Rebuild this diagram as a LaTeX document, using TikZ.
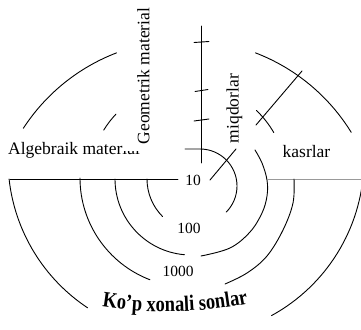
\documentclass[tikz,border=0pt]{standalone}
\usepackage{fontspec}
\setmainfont{Liberation Serif}
\newfontfamily\arcfont[FakeStretch=0.84]{Liberation Serif}
\usetikzlibrary{decorations.text}
\tikzset{
  ln/.style={line width=0.9pt, line cap=round},
  lbl/.style={font=\fontsize{17.5}{20}\selectfont, inner sep=0pt},
  num/.style={font=\fontsize{15.5}{18}\selectfont, inner sep=0pt}
}
\begin{document}
\begin{tikzpicture}[x=1pt,y=-1pt]
\useasboundingbox (0,0) rectangle (361,329);
% horizontal axis
\coordinate (hl1) at (10,179);
\coordinate (hl2) at (178,179);
\coordinate (hr1) at (268,179);
\coordinate (hr2) at (361,179);
\draw[ln] (hl1) -- (hl2);
\draw[ln, black!40] (hr1) -- (hr2);
% vertical axis with ticks
\coordinate (vt) at (201,26);
\coordinate (vb) at (201,163);
\draw[ln] (vt) -- (vb);
\draw[ln] (194,42.5) -- (209,41.5);
\draw[ln] (195,91.5) -- (208,89.5);
\draw[ln] (194,121) -- (209,119);
% innermost arcs
\draw[ln] (147,179) arc[start angle=180, end angle=135, radius=53];
\draw[ln] (185,149) -- (200,149) arc[start angle=-90, end angle=45, radius=37];
\draw[ln] (210,180) -- (236,149);
% second ring
\draw[ln] (115,179) arc[start angle=180, end angle=95, radius=76];
\draw[ln] plot[smooth, tension=0.6] coordinates {(255,150) (262,163) (267,180) (267,196) (262,213) (250,232) (230,248) (201,256)};
% third ring
\draw[ln] (80,178) arc[start angle=180, end angle=111, radius=109];
\draw[ln] plot[smooth, tension=0.6] coordinates {(294,179) (293,203) (283,230) (267,256) (247,273) (225,284)};
% outer lower ring
\draw[ln] (186,159.5) ++(173.7:178) arc[start angle=173.7, end angle=123.6, radius=178];
\draw[ln] (186,159.5) ++(61.3:178) arc[start angle=61.3, end angle=2, radius=178];
% upper outer arcs
\draw[ln] (186,234) ++(213:194) arc[start angle=213, end angle=249, radius=194];
\draw[ln] (186,234) ++(291:194) arc[start angle=291, end angle=328.4, radius=194];
% upper small arcs
\draw[ln] (188,182) ++(211.6:99) arc[start angle=211.6, end angle=223.3, radius=99];
\draw[ln] (188,182) ++(313.7:99) arc[start angle=313.7, end angle=330, radius=99];
% kasrlar line
\draw[ln] (256,125) -- (302,71);
% labels
\node[lbl, anchor=base west] (alg) at (8,154) {Algebraik material};
\fill[white] (123,139.5) rectangle (143,151);
\node[lbl, rotate=90] (geo) at (143.5,76) {Geometrik material};
\node[lbl, rotate=90] (miq) at (234.5,108.5) {miqdorlar};
\node[lbl, anchor=base] (kas) at (306.5,157) {kasrlar};
\node[num] (n10) at (193,180) {10};
\node[num] (n100) at (189,228.5) {100};
\node[num] (n1000) at (178,271.5) {1000};
\path[decorate, decoration={text along path, text align=center,
  text={|\arcfont\bfseries\fontsize{22}{22}\selectfont|Ko’p xonali sonlar}}]
  (70,300) .. controls (130,316) and (210,316) .. (280,296);
\end{tikzpicture}
\end{document}
